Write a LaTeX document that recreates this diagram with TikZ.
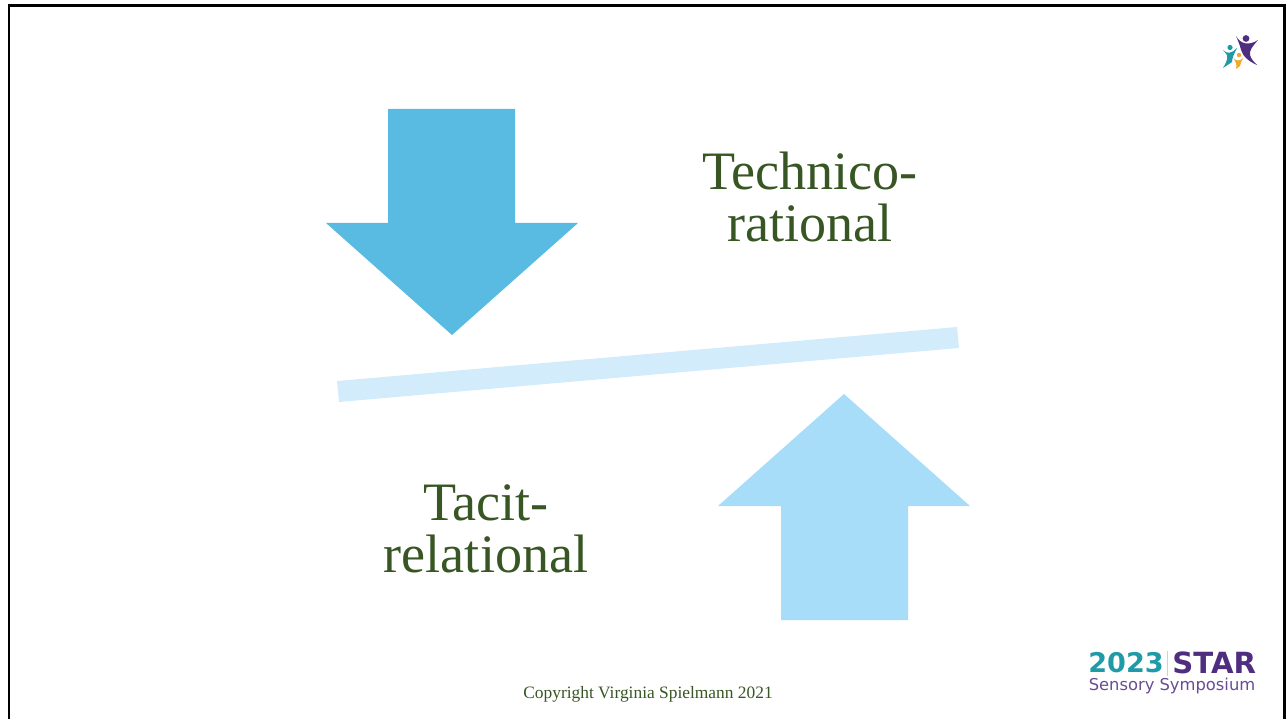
\documentclass[tikz,border=0pt]{standalone}
\usepackage{fontspec}
\setmainfont{Liberation Serif}
\newfontfamily\logofont{DejaVu Sans}
\usepackage{xcolor}
\definecolor{arrowdark}{HTML}{59BBE2}
\definecolor{arrowlight}{HTML}{A8DDF9}
\definecolor{beamcol}{HTML}{D2ECFB}
\definecolor{textgreen}{HTML}{375623}
\definecolor{logoteal}{HTML}{1E9BA6}
\definecolor{logopurple}{HTML}{4F2D7F}
\definecolor{logoorange}{HTML}{F0A830}
\tikzset{
	bigword/.style={text=textgreen,font=\fontsize{30.8pt}{29.5pt}\selectfont,align=center,inner sep=0pt},
	logoword/.style={font=\logofont\bfseries\fontsize{15.4pt}{15.4pt}\selectfont,inner sep=0pt}
}

\begin{document}
\begin{tikzpicture}[x=0.02cm,y=-0.02cm]
	\useasboundingbox (0,0) rectangle (1288,719);

	% frame
	\draw[line width=0.06cm] (9,6) -- (1284.5,6) -- (1284.5,725) -- (9,725) -- cycle;

	% arrows and beam
	\fill[arrowdark] (388,109) -- (515,109) -- (515,223) -- (578,223) -- (452,335) -- (326,223) -- (388,223) -- cycle;
	\fill[arrowlight] (781,620) -- (908,620) -- (908,506) -- (970,506) -- (844,394) -- (718,506) -- (781,506) -- cycle;
	\fill[beamcol] (337,381) -- (957,327) -- (959,348) -- (339,402) -- cycle;

	% words
	\node[bigword] (upper) at (810,197) {Technico-\\rational};
	\node[bigword] (lower) at (486,528.5) {Tacit-\\relational};
	\node[text=textgreen,font=\fontsize{9.9pt}{9.9pt}\selectfont,inner sep=0pt] (copy) at (648,694) {Copyright Virginia Spielmann 2021};

	% logo lower right
	\node[logoword,text=logoteal,anchor=east] (year) at (1164,663) {2023};
	\node[logoword,text=logopurple,anchor=west,font=\logofont\bfseries\fontsize{16.6pt}{16.6pt}\selectfont] (star) at (1172,663) {STAR};
	\draw[logoorange!60,line width=0.02cm] (1167.5,651) -- (1167.5,676);
	\node[text=logopurple!85,font=\logofont\fontsize{9.3pt}{9.3pt}\selectfont,inner sep=0pt] (symp) at (1172,686) {Sensory Symposium};

	% logo upper right
	\fill[logopurple] (1246,38.5) circle (3.4);
	\fill[logopurple] (1236,36) .. controls (1240,44) and (1249,46) .. (1258,40) .. controls (1252,47) and (1249,51) .. (1250,55) .. controls (1251,59) and (1254,62) .. (1257,65) .. controls (1250,62) and (1243,57) .. (1241,50) .. controls (1240,45) and (1238,41) .. (1236,36) -- cycle;
	\fill[logoteal] (1230,47.5) circle (2.6);
	\fill[logoteal] (1223,50) .. controls (1227,54) and (1231,54) .. (1237,48) .. controls (1234,54) and (1232,58) .. (1232,62) -- (1223,68) .. controls (1226,63) and (1228,59) .. (1227,55) -- cycle;
	\fill[logoorange] (1239,55) circle (2.2);
	\fill[logoorange] (1234,59) .. controls (1237,61) and (1240,61) .. (1243,58) .. controls (1241,61) and (1241,64) .. (1240,66) -- (1236,69) .. controls (1237,65) and (1236,62) .. (1234,59) -- cycle;
\end{tikzpicture}
\end{document}
